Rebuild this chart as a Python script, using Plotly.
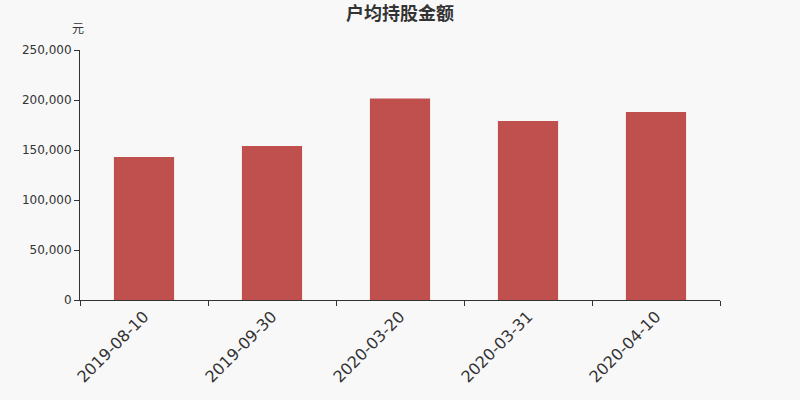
import plotly.graph_objects as go

# 报告期
dates = ["2019-08-10", "2019-09-30", "2020-03-20", "2020-03-31", "2020-04-10"]
# 户均持股金额（元）
amounts = [143000, 154000, 201500, 179000, 188000]

y_ticks = [0, 50000, 100000, 150000, 200000, 250000]
y_tick_text = ["0", "50,000", "100,000", "150,000", "200,000", "250,000"]

font_family = "DejaVu Sans, Noto Sans CJK SC"

fig = go.Figure(
    go.Bar(
        x=dates,
        y=amounts,
        marker=dict(color="#c0504d", line=dict(width=0)),
        width=0.47,
        hoverinfo="x+y",
    )
)

fig.update_layout(
    width=800,
    height=400,
    paper_bgcolor="#f8f8f8",
    plot_bgcolor="#f8f8f8",
    margin=dict(l=80, r=80, t=50, b=100),
    font=dict(family=font_family, color="#333333"),
    title=dict(
        text="<b>户均持股金额</b>",
        x=0.5,
        xanchor="center",
        y=0.965,
        yanchor="middle",
        font=dict(size=18, color="#333333", family="Noto Sans CJK SC"),
    ),
    showlegend=False,
    annotations=[
        dict(
            text="元",
            xref="paper",
            yref="paper",
            x=0,
            xshift=-2,
            y=1.088,
            xanchor="center",
            yanchor="middle",
            showarrow=False,
            font=dict(size=12, color="#333333", family="Noto Sans CJK SC"),
        )
    ],
)

fig.update_xaxes(
    type="category",
    showline=True,
    linecolor="#333333",
    linewidth=1,
    ticks="outside",
    tickson="boundaries",
    ticklen=5,
    tickcolor="#333333",
    tickangle=-45,
    tickfont=dict(size=16, color="#333333"),
    showgrid=False,
    zeroline=False,
)

fig.update_yaxes(
    range=[0, 250000],
    tickvals=y_ticks,
    ticktext=y_tick_text,
    showline=True,
    linecolor="#333333",
    linewidth=1,
    ticks="outside",
    ticklen=5,
    tickcolor="#333333",
    tickfont=dict(size=12, color="#333333"),
    showgrid=False,
    zeroline=False,
)

# 去掉页面默认边距，让图表贴齐窗口
fig.write_html(
    "out.html",
    config={"displayModeBar": False},
    post_script="document.body.style.margin='0';",
)
